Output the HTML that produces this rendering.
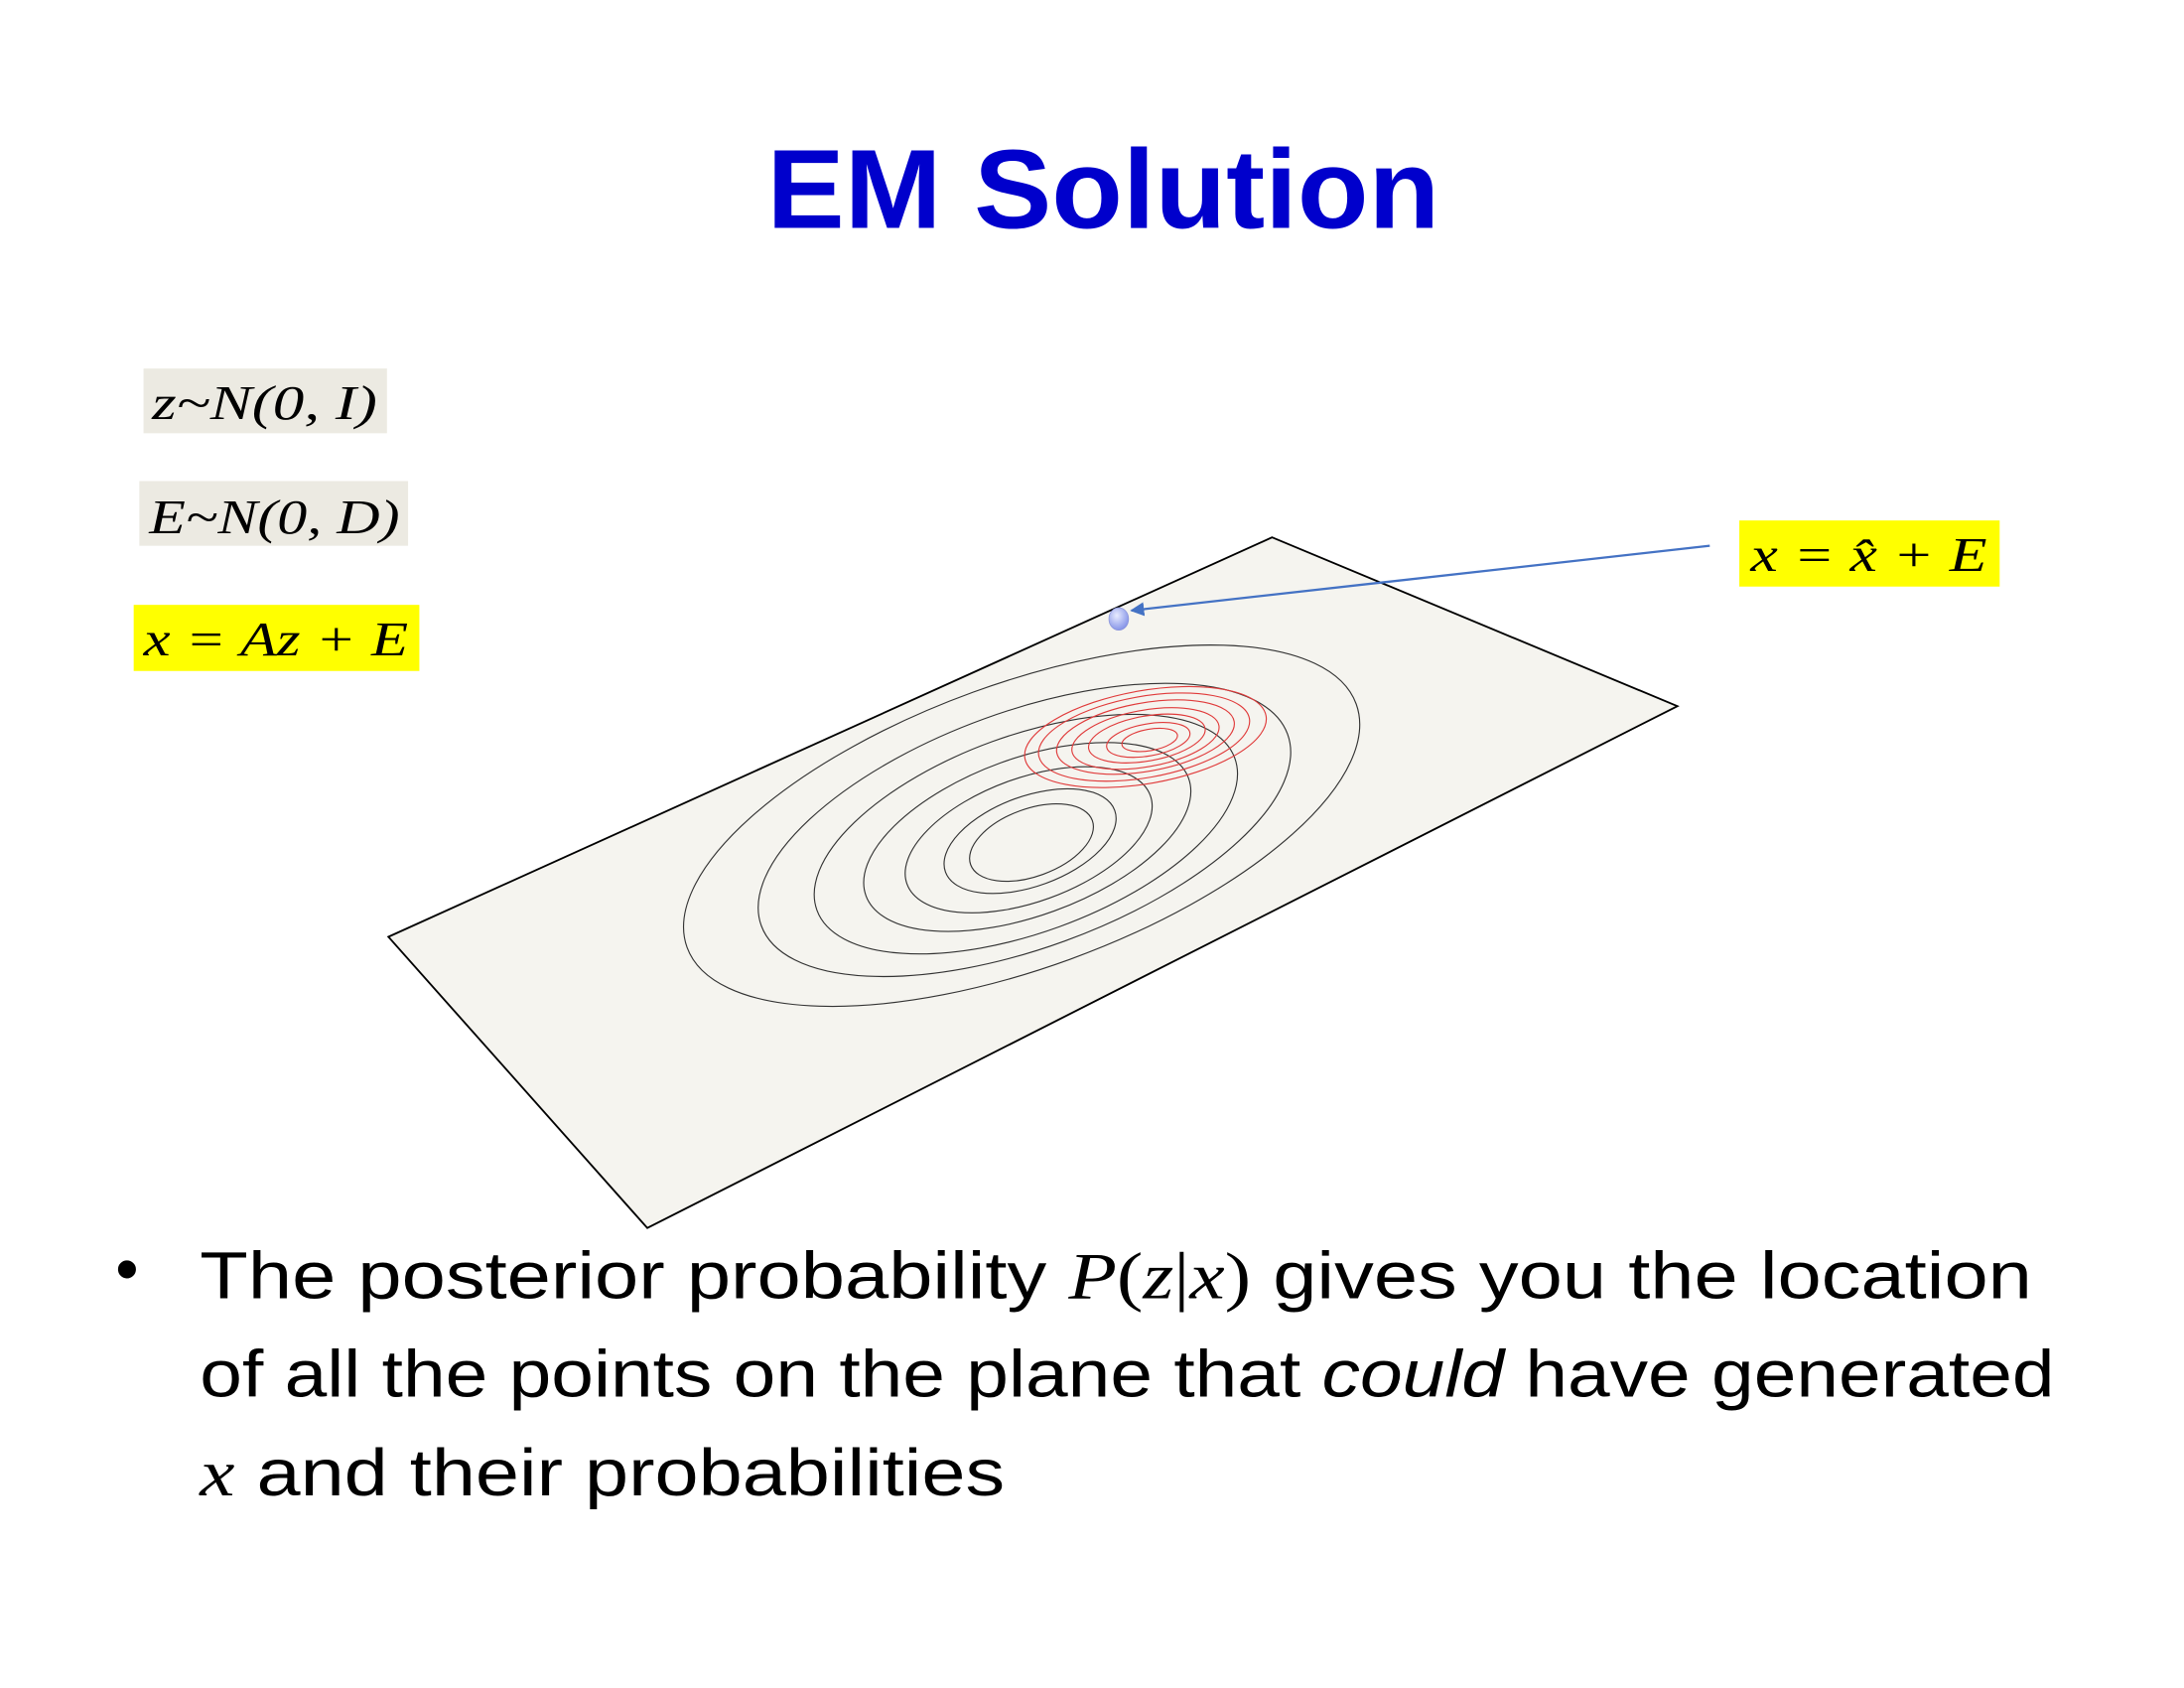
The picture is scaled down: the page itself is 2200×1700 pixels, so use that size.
<!DOCTYPE html>
<html><head><meta charset="utf-8"><style>
html,body{margin:0;padding:0;background:#fff;width:2200px;height:1700px;overflow:hidden}
svg{display:block}
.m{font-family:"Liberation Serif",serif;font-style:italic;font-size:34px;fill:#000}
.b{font-family:"Liberation Sans",sans-serif;font-size:47px;fill:#000}
</style></head><body>
<svg id="slide" width="2200" height="1700" viewBox="0 0 1552 1200" preserveAspectRatio="none" xmlns="http://www.w3.org/2000/svg">
<defs>
<radialGradient id="dotg" cx="0.4" cy="0.35" r="0.7"><stop offset="0" stop-color="#e8ecff"/><stop offset="1" stop-color="#7f8ee6"/></radialGradient>
<marker id="ah" markerWidth="10" markerHeight="10" refX="9" refY="5" orient="auto" markerUnits="userSpaceOnUse"><path d="M0,0 L10,5 L0,10 z" fill="#4472c4"/></marker>
</defs>
<text x="784" y="162" text-anchor="middle" font-family="Liberation Sans, sans-serif" font-weight="bold" font-size="80" fill="#0000cc" textLength="478" lengthAdjust="spacingAndGlyphs">EM Solution</text>

<rect x="102" y="262" width="173" height="46" fill="#eceae2"/>
<text class="m" x="108" y="298" textLength="160" lengthAdjust="spacingAndGlyphs">z~N(0, I)</text>
<rect x="99" y="342" width="191" height="46" fill="#eceae2"/>
<text class="m" x="106" y="379" textLength="178" lengthAdjust="spacingAndGlyphs">E~N(0, D)</text>
<rect x="95" y="430" width="203" height="47" fill="#ffff00"/>
<text class="m" x="102" y="466" textLength="188" lengthAdjust="spacingAndGlyphs">x = Az + E</text>
<rect x="1236" y="370" width="185" height="47" fill="#ffff00"/>
<text class="m" x="1244" y="406" textLength="168" lengthAdjust="spacingAndGlyphs">x = x̂ + E</text>

<polygon points="904,382 1192,502 460,873 276,666" fill="#f5f4ef" stroke="#000" stroke-width="1.3"/>
<g id="contours"></g>
<line x1="1215" y1="388" x2="804" y2="434" stroke="#4472c4" stroke-width="1.6" marker-end="url(#ah)"/>
<ellipse cx="795" cy="440" rx="7" ry="8" fill="url(#dotg)" stroke="#8a94d8" stroke-width="0.5"/>

<text class="b" x="82" y="918">•</text>
<text class="b" x="142" y="923" textLength="1302" lengthAdjust="spacingAndGlyphs">The posterior probability <tspan font-family="Liberation Serif, serif" font-style="italic">P</tspan><tspan font-family="Liberation Serif, serif">(</tspan><tspan font-family="Liberation Serif, serif" font-style="italic">z</tspan><tspan font-family="Liberation Serif, serif">|</tspan><tspan font-family="Liberation Serif, serif" font-style="italic">x</tspan><tspan font-family="Liberation Serif, serif">)</tspan> gives you the location</text>
<text class="b" x="142" y="993" textLength="1318" lengthAdjust="spacingAndGlyphs">of all the points on the plane that <tspan font-style="italic">could</tspan> have generated</text>
<text class="b" x="142" y="1063" textLength="572" lengthAdjust="spacingAndGlyphs"><tspan font-family="Liberation Serif, serif" font-style="italic">x</tspan> and their probabilities</text>
</svg>
<script>
// prior contour rings (view units): centers, semi-major, semi-minor
const priorCx = [733, 732, 731, 730, 729, 728, 726];
const priorCy = [599, 598, 597, 595, 593, 590, 587];
const priorMajor = [46, 64, 92, 122, 158, 199, 253];
const priorMinor = [24, 32, 44, 56, 70, 84, 101];
// posterior contour rings
const postCx = [817, 816, 815, 814, 814, 813, 814];
const postCy = [526, 526, 525, 525, 524, 524, 524];
const postHalfWidth = [20, 30, 42, 53, 64, 76, 87];

const NS = 'http://www.w3.org/2000/svg';
const g = document.getElementById('contours');
function ring(cx, cy, a, b, ang, color, w) {
  const e = document.createElementNS(NS, 'ellipse');
  e.setAttribute('cx', cx); e.setAttribute('cy', cy);
  e.setAttribute('rx', a); e.setAttribute('ry', b);
  e.setAttribute('transform', 'rotate(' + ang + ' ' + cx + ' ' + cy + ')');
  e.setAttribute('fill', 'none'); e.setAttribute('stroke', color); e.setAttribute('stroke-width', w);
  return e;
}
for (let i = 0; i < priorMajor.length; i++) {
  const e = ring(priorCx[i], priorCy[i], priorMajor[i], priorMinor[i], -20, '#333', 0.8);
  
  
  g.appendChild(e);
}
for (let i = 0; i < postHalfWidth.length; i++) {
  const hw = postHalfWidth[i];
  const e = ring(postCx[i], postCy[i], hw * 1.0, hw * 0.38, -10, '#e03a3a', 0.8);
  
  
  g.appendChild(e);
}
</script>
</body></html>
